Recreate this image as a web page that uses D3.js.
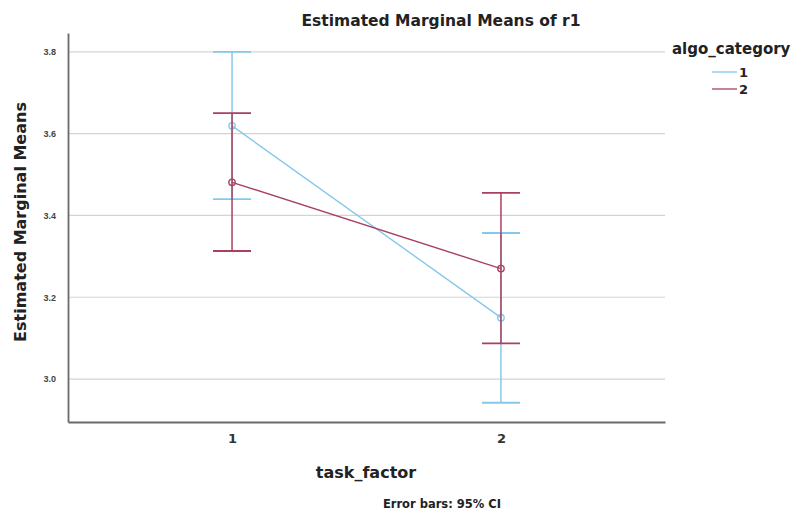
<!DOCTYPE html>
<html>
<head>
<meta charset="utf-8">
<script src="https://cdn.jsdelivr.net/npm/d3@7"></script>
<style>
  body { margin: 0; background: #fff; }
  text { font-family: "DejaVu Sans", Arial, sans-serif; fill: #222; }
</style>
</head>
<body>
<svg id="chart" width="795" height="511"></svg>
<script>
// task_factor levels on the x axis
const tasks = ["1", "2"];
// algo_category groups
const groups = ["1", "2"];
const groupColors = ["#85c8ee", "#a8405e"];
// means and 95% CI per group, one entry per task
const means = [[3.619, 3.150], [3.481, 3.270]];
const ciLow = [[3.440, 2.942], [3.313, 3.087]];
const ciHigh = [[3.800, 3.357], [3.650, 3.455]];
const yTicks = [3.0, 3.2, 3.4, 3.6, 3.8];

const svg = d3.select("#chart");
const plotLeft = 68, plotRight = 665, plotTop = 33, plotBottom = 422;

const xScale = d3.scalePoint().domain(tasks).range([plotLeft, plotRight]).padding(0.61);
const yScale = d3.scaleLinear().domain([2.895, 3.846]).range([plotBottom, plotTop]);

// horizontal grid lines
svg.append("g")
  .selectAll("line")
  .data(yTicks)
  .enter()
  .append("line")
  .attr("x1", plotLeft)
  .attr("x2", plotRight)
  .attr("y1", (d) => yScale(d))
  .attr("y2", (d) => yScale(d))
  .style("stroke", "#d4d4d4")
  .style("stroke-width", 1.2);

// y axis
const yAxis = svg.append("g")
  .attr("transform", `translate(${plotLeft},0)`)
  .call(d3.axisLeft(yScale).tickValues(yTicks).tickFormat(d3.format(".1f")).tickSize(0).tickPadding(12));
yAxis.select(".domain").style("stroke", "#6a6a6a").style("stroke-width", 1.8);
yAxis.selectAll("text")
  .style("font-family", "'Liberation Sans', Arial, sans-serif")
  .style("font-size", "9px").style("font-weight", "bold").style("fill", "#444");

// x axis
const xAxis = svg.append("g")
  .attr("transform", `translate(0,${plotBottom})`)
  .call(d3.axisBottom(xScale).tickSize(0).tickPadding(12));
xAxis.select(".domain").style("stroke", "#6a6a6a").style("stroke-width", 1.8);
xAxis.selectAll("text").style("font-size", "13px").style("font-weight", "bold").style("fill", "#333");

// lines, error bars and markers per group
groups.forEach((g, gi) => {
  const color = groupColors[gi];
  const layer = svg.append("g");
  const pts = tasks.map((t, ti) => ({ t: t, m: means[gi][ti], lo: ciLow[gi][ti], hi: ciHigh[gi][ti] }));

  layer.selectAll(".bar")
    .data(pts)
    .enter()
    .append("line")
    .attr("x1", (d) => xScale(d.t))
    .attr("x2", (d) => xScale(d.t))
    .attr("y1", (d) => yScale(d.lo))
    .attr("y2", (d) => yScale(d.hi))
    .style("stroke", color)
    .style("stroke-width", 1.5);

  ["lo", "hi"].forEach((k) => {
    layer.selectAll(".cap-" + k)
      .data(pts)
      .enter()
      .append("line")
      .attr("x1", (d) => xScale(d.t) - 19)
      .attr("x2", (d) => xScale(d.t) + 19)
      .attr("y1", (d) => yScale(d[k]))
      .attr("y2", (d) => yScale(d[k]))
      .style("stroke", color)
      .style("stroke-width", 1.8);
  });

  layer.append("path")
    .datum(pts)
    .attr("d", d3.line().x((d) => xScale(d.t)).y((d) => yScale(d.m)))
    .style("fill", "none")
    .style("stroke", color)
    .style("stroke-width", 1.4);

  layer.selectAll("circle")
    .data(pts)
    .enter()
    .append("circle")
    .attr("cx", (d) => xScale(d.t))
    .attr("cy", (d) => yScale(d.m))
    .attr("r", 3.2)
    .style("fill", "none")
    .style("stroke", color)
    .style("stroke-width", 1.4);
});

// title and axis labels
svg.append("text")
  .attr("x", 441).attr("y", 26)
  .attr("text-anchor", "middle")
  .style("font-size", "15.5px").style("font-weight", "bold")
  .text("Estimated Marginal Means of r1");

svg.append("text")
  .attr("transform", "translate(26,222) rotate(-90)")
  .attr("text-anchor", "middle")
  .style("font-size", "16px").style("font-weight", "bold")
  .text("Estimated Marginal Means");

svg.append("text")
  .attr("x", 366).attr("y", 478)
  .attr("text-anchor", "middle")
  .style("font-size", "16px").style("font-weight", "bold")
  .text("task_factor");

svg.append("text")
  .attr("x", 442).attr("y", 508)
  .attr("text-anchor", "middle")
  .style("font-size", "11.5px").style("font-weight", "bold")
  .text("Error bars: 95% CI");

// legend
svg.append("text")
  .attr("x", 672).attr("y", 54)
  .style("font-size", "15px").style("font-weight", "bold")
  .text("algo_category");

const legend = svg.append("g")
  .selectAll("g")
  .data(groups)
  .enter()
  .append("g")
  .attr("transform", (d, i) => `translate(712,${72 + i * 17})`);
legend.append("line")
  .attr("x1", 0).attr("x2", 25)
  .style("stroke", (d, i) => groupColors[i])
  .style("stroke-width", 1.3);
legend.append("text")
  .attr("x", 27).attr("y", 5)
  .style("font-size", "13px").style("font-weight", "bold")
  .text((d) => d);
</script>
</body>
</html>
